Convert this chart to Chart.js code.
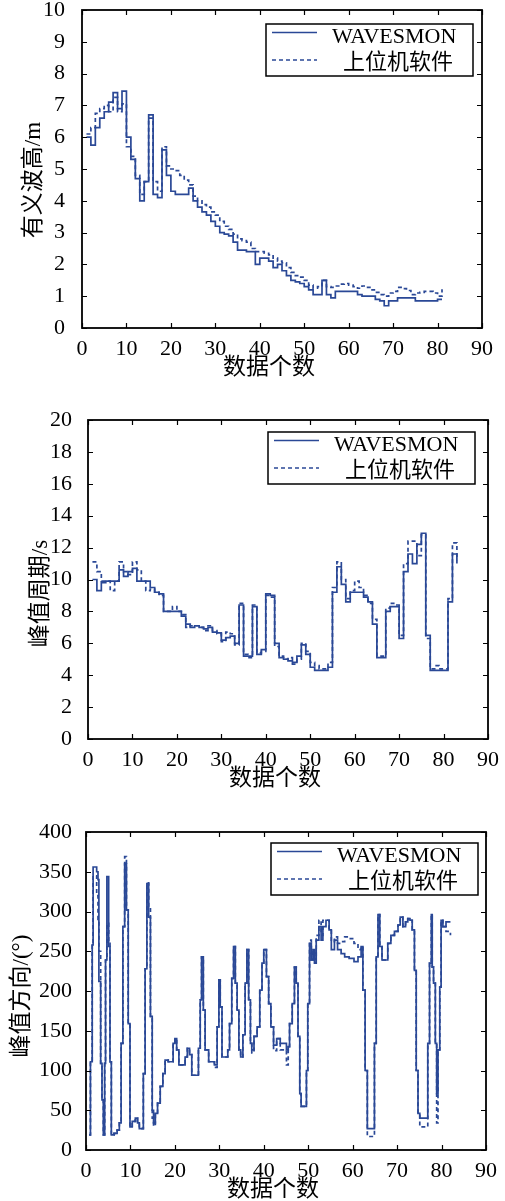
<!DOCTYPE html>
<html>
<head>
<meta charset="utf-8">
<script src="https://cdn.jsdelivr.net/npm/chart.js@4.4.1/dist/chart.umd.min.js"></script>
<style>
html, body { margin: 0; padding: 0; background: #fff; overflow: hidden; width: 505px; height: 1201px; }
canvas { position: absolute; left: 0; }
</style>
</head>
<body>
<canvas id="c1" width="505" height="410" style="top:-20px"></canvas>
<canvas id="c2" width="505" height="411" style="top:390px"></canvas>
<canvas id="c3" width="505" height="410" style="top:802px"></canvas>
<script>
// series names and axis texts
var seriesNames = ['WAVESMON', '上位机软件'];
var xTitle = '数据个数';

// 有义波高 (m)
var xHeight = [1,2,3,4,5,6,7,8,9,10,11,12,13,14,15,16,17,18,19,20,21,22,23,24,25,26,27,28,29,30,
  31,32,33,34,35,36,37,38,39,40,41,42,43,44,45,46,47,48,49,50,51,52,53,54,55,56,57,58,59,60,
  61,62,63,64,65,66,67,68,69,70,71,72,73,74,75,76,77,78,79,80,81];
var heightWaves = [6.0,5.75,6.3,6.6,6.8,7.1,7.4,6.9,7.45,6.0,5.3,4.7,4.0,4.6,6.7,4.2,4.1,5.6,4.8,4.3,
  4.2,4.2,4.2,4.4,4.0,3.8,3.65,3.55,3.35,3.2,3.0,2.95,2.9,2.7,2.45,2.45,2.4,2.4,2.0,2.2,
  2.2,2.1,1.9,2.0,1.8,1.65,1.5,1.45,1.4,1.3,1.2,1.05,1.05,1.5,1.05,0.95,1.15,1.15,1.15,1.15,
  1.15,1.05,1.0,1.0,1.0,0.9,0.85,0.7,0.85,0.85,0.95,0.95,0.95,0.95,0.85,0.85,0.85,0.85,0.85,0.9,0.9];
var heightSoft = [6.1,6.3,6.75,6.9,7.0,6.8,7.25,6.8,7.05,5.7,5.4,4.8,4.2,4.6,6.6,4.6,4.3,5.7,5.1,5.0,
  4.95,4.8,4.65,4.5,4.15,4.0,3.88,3.8,3.65,3.55,3.35,3.2,3.1,2.95,2.8,2.75,2.7,2.5,2.4,2.4,
  2.35,2.3,2.2,2.1,2.05,1.9,1.75,1.65,1.6,1.5,1.35,1.25,1.3,1.5,1.3,1.28,1.32,1.38,1.4,1.35,
  1.3,1.25,1.32,1.28,1.2,1.12,1.05,1.0,1.1,1.15,1.28,1.24,1.18,1.05,1.1,1.12,1.15,1.15,1.1,1.0,1.22];

// 峰值周期 (s)
var xPeriod = [1,2,3,4,5,6,7,8,9,10,11,12,13,14,15,16,17,18,19,20,21,22,23,24,25,26,27,28,29,30,
  31,32,33,34,35,36,37,38,39,40,41,42,43,44,45,46,47,48,49,50,51,52,53,54,55,56,57,58,59,60,
  61,62,63,64,65,66,67,68,69,70,71,72,73,74,75,76,77,78,79,80,81,82,83];
var periodWaves = [10.0,9.3,9.8,9.9,9.9,9.9,10.6,10.2,10.5,10.7,9.9,9.9,9.9,9.5,9.2,9.1,8.0,8.0,8.0,8.0,
  7.7,7.2,7.0,7.1,7.0,6.9,7.0,6.7,6.65,6.2,6.35,6.45,6.0,8.4,5.2,5.2,8.3,5.3,5.6,9.1,
  9.0,6.0,5.1,5.0,4.9,4.8,5.2,5.9,5.3,4.5,4.3,4.3,4.3,4.5,9.2,10.8,9.7,8.6,9.2,9.2,
  9.2,8.9,8.6,7.2,5.1,5.1,8.0,8.3,8.3,6.3,10.5,11.6,11.0,12.2,12.9,6.5,4.3,4.3,4.3,4.3,
  8.6,11.6,11.2];
var periodSoft = [11.1,10.5,9.9,9.9,9.3,9.9,11.1,10.5,10.3,11.1,10.6,9.9,9.3,9.4,9.2,9.0,8.0,8.0,8.3,8.0,
  7.8,7.0,7.1,7.1,7.0,6.8,7.1,6.8,6.6,6.1,6.7,6.6,5.9,8.5,5.3,5.1,8.4,5.4,5.5,9.0,
  8.9,5.8,5.2,5.0,5.1,4.7,5.0,6.0,5.5,4.8,4.6,4.4,4.4,4.8,9.5,11.1,10.0,8.8,9.3,9.9,
  9.5,9.0,8.5,7.5,5.2,5.2,8.2,8.5,8.4,6.5,11.0,12.4,12.4,11.5,12.8,6.3,4.4,4.6,4.4,4.4,
  8.8,12.3,11.0];

// 峰值方向 (°)
var xDirection = [0.7,1.0,1.4,1.6,2.4,2.7,2.9,3.3,3.6,3.9,
  4.2,4.4,4.7,5.1,5.4,5.7,6.3,7.0,7.5,7.9,
  8.3,8.7,9.1,9.5,9.9,10.4,11.1,11.6,12.0,12.9,
  13.3,13.7,14.1,14.5,14.9,15.2,15.6,16.1,16.7,17.3,
  17.8,18.5,19.6,20.0,20.4,20.9,22.3,22.8,23.3,23.8,
  25.3,25.7,26.0,26.4,26.8,27.6,28.9,29.5,29.9,30.2,
  30.6,31.9,32.3,32.8,33.2,33.6,34.0,34.4,34.8,35.3,
  35.8,36.2,36.6,37.0,37.3,37.8,38.5,39.1,39.6,40.0,
  40.6,41.1,41.6,42.2,42.9,43.7,45.1,45.5,45.8,46.4,
  46.9,47.3,47.7,48.1,48.4,49.6,49.9,50.3,50.7,51.1,
  51.4,51.8,52.4,52.9,53.3,54.0,54.7,55.2,55.9,56.6,
  57.4,58.2,59.2,60.3,61.2,61.9,62.3,62.8,63.3,64.9,
  65.3,65.7,66.1,66.6,67.9,68.6,69.4,70.2,70.7,71.3,
  71.9,72.4,72.9,73.4,73.9,74.3,74.7,75.1,76.9,77.3,
  77.7,77.9,78.2,78.6,78.9,79.2,79.6,79.9,80.3,81.0,
  82.0];
var directionWaves = [19,111,258,356,350,340,212,109,63,19,
  109,239,344,256,111,19,21,25,34,134,
  281,360,302,159,29,36,40,34,27,96,
  228,335,293,168,50,34,46,59,80,96,
  113,111,134,140,126,107,117,128,120,94,
  128,189,243,176,126,111,107,155,214,180,
  117,126,159,216,256,210,176,126,117,145,
  210,252,189,134,126,143,155,201,235,252,
  218,184,155,132,140,134,126,130,159,184,
  230,210,143,71,55,100,184,260,239,252,
  235,264,281,264,281,289,277,252,264,252,
  247,243,241,237,243,256,201,100,27,134,
  243,296,256,239,260,270,275,283,293,281,
  287,291,289,277,226,100,46,40,134,235,
  296,230,210,134,71,126,205,289,281,287,
  287];
var directionSoft = [19,111,258,345,320,290,250,109,63,19,
  109,239,285,260,111,19,21,25,34,134,
  281,369,302,159,29,36,40,34,27,96,
  228,336,305,168,40,30,46,59,80,96,
  113,111,134,140,126,107,117,128,120,94,
  128,189,243,176,126,111,104,155,214,180,
  117,126,159,216,256,210,176,126,117,145,
  210,252,189,134,122,143,155,201,235,252,
  218,184,155,125,140,126,107,130,159,184,
  230,210,143,71,55,100,184,264,239,252,
  240,270,289,270,289,289,277,262,268,260,
  262,268,266,260,252,256,201,100,17,134,
  243,296,256,239,260,270,275,283,293,281,
  287,291,289,277,226,100,46,29,134,235,
  296,230,210,134,34,126,205,289,281,275,
  270];

var lineBlue = '#2a4896';
var serif = '"Liberation Serif", "Noto Sans CJK SC"';

Chart.defaults.color = '#000';

// MATLAB-like box: frame, inward ticks on all sides, boxed legend, axis titles
var matlabBox = {
  id: 'matlabBox',
  afterDraw: function (chart, args, o) {
    var ctx = chart.ctx, a = chart.chartArea, xs = chart.scales.x, ys = chart.scales.y;
    ctx.save();
    ctx.strokeStyle = '#000';
    ctx.lineWidth = 1.2;
    ctx.beginPath();
    xs.ticks.forEach(function (t) {
      var p = Math.round(xs.getPixelForValue(t.value)) + 0.5;
      ctx.moveTo(p, a.bottom); ctx.lineTo(p, a.bottom - 5);
      ctx.moveTo(p, a.top); ctx.lineTo(p, a.top + 5);
    });
    ys.ticks.forEach(function (t) {
      var p = Math.round(ys.getPixelForValue(t.value)) + 0.5;
      ctx.moveTo(a.left, p); ctx.lineTo(a.left + 5, p);
      ctx.moveTo(a.right, p); ctx.lineTo(a.right - 5, p);
    });
    ctx.stroke();
    ctx.lineWidth = 1.8;
    ctx.strokeRect(a.left, a.top, a.right - a.left, a.bottom - a.top);

    // legend
    var w = 207, h = 52;
    var lx = a.right - o.legendRight - w, ly = a.top + o.legendTop;
    ctx.fillStyle = '#fff';
    ctx.fillRect(lx, ly, w, h);
    ctx.lineWidth = 1.5;
    ctx.strokeRect(lx, ly, w, h);
    ctx.strokeStyle = lineBlue;
    ctx.lineWidth = 1.7;
    ctx.beginPath(); ctx.moveTo(lx + 6, ly + 8.5); ctx.lineTo(lx + 51, ly + 8.5); ctx.stroke();
    ctx.setLineDash([4, 3]);
    ctx.beginPath(); ctx.moveTo(lx + 6, ly + 36); ctx.lineTo(lx + 51, ly + 36); ctx.stroke();
    ctx.setLineDash([]);
    ctx.fillStyle = '#000';
    ctx.textBaseline = 'middle';
    ctx.textAlign = 'left';
    ctx.font = '22px "Liberation Serif"';
    ctx.fillText(seriesNames[0], lx + 66, ly + 13);
    ctx.font = '22px "Noto Sans CJK SC"';
    ctx.fillText(seriesNames[1], lx + 77, ly + 37);

    // axis titles
    ctx.font = '23px ' + serif;
    ctx.textAlign = 'center';
    ctx.fillText(xTitle, (a.left + a.right) / 2 - 13, a.bottom + 40);
    ctx.translate(o.yTitleX, (a.top + a.bottom) / 2 + o.yTitleShift);
    ctx.rotate(-Math.PI / 2);
    ctx.fillText(o.yTitle, 0, 0);
    ctx.restore();
  }
};

function points(xs, vals) {
  return xs.map(function (x, i) { return { x: x, y: vals[i] }; });
}

function makeChart(id, xs, waves, soft, s) {
  return new Chart(document.getElementById(id), {
    type: 'line',
    data: {
      datasets: [{
        label: seriesNames[1],
        data: points(xs, soft),
        borderColor: lineBlue,
        borderWidth: 1.7,
        borderDash: [4, 3],
        pointRadius: 0,
        stepped: true,
        fill: false
      }, {
        label: seriesNames[0],
        data: points(xs, waves),
        borderColor: lineBlue,
        borderWidth: 1.7,
        pointRadius: 0,
        stepped: true,
        fill: false
      }]
    },
    options: {
      responsive: false,
      animation: false,
      layout: { padding: { top: 30, right: s.right, left: 0, bottom: 0 } },
      plugins: {
        legend: { display: false },
        tooltip: { enabled: false },
        matlabBox: s.box
      },
      scales: {
        x: {
          type: 'linear', min: 0, max: 90,
          ticks: { stepSize: 10, padding: 0, maxRotation: 0, autoSkip: false, font: { family: serif, size: 22 } },
          grid: { display: false },
          border: { display: false },
          afterFit: function (sc) { sc.height = 62; }
        },
        y: {
          type: 'linear', min: s.yMin, max: s.yMax,
          ticks: { stepSize: s.yStep, padding: s.yPad, autoSkip: false, font: { family: serif, size: 22 } },
          grid: { display: false },
          border: { display: false },
          afterFit: function (sc) { sc.width = s.left; }
        }
      }
    },
    plugins: [matlabBox]
  });
}

makeChart('c1', xHeight, heightWaves, heightSoft, {
  left: 82, right: 23, yMin: 0, yMax: 10, yStep: 1, yPad: 9,
  box: { legendRight: 9, legendTop: 14, yTitle: '有义波高/m', yTitleX: 34, yTitleShift: 11 }
});
makeChart('c2', xPeriod, periodWaves, periodSoft, {
  left: 88, right: 17, yMin: 0, yMax: 20, yStep: 2, yPad: 8,
  box: { legendRight: 13, legendTop: 12, yTitle: '峰值周期/s', yTitleX: 41, yTitleShift: 14 }
});
makeChart('c3', xDirection, directionWaves, directionSoft, {
  left: 86, right: 19, yMin: 0, yMax: 400, yStep: 50, yPad: 6,
  box: { legendRight: 8, legendTop: 11, yTitle: '峰值方向/(°)', yTitleX: 22, yTitleShift: 5 }
});
</script>
</body>
</html>
